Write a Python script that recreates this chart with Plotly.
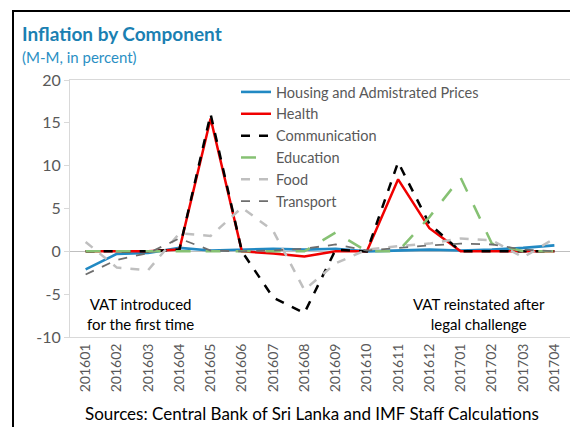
import plotly.graph_objects as go

months = ["201601", "201602", "201603", "201604", "201605", "201606", "201607", "201608",
          "201609", "201610", "201611", "201612", "201701", "201702", "201703", "201704"]

housing = [-2.1, -0.3, -0.2, 0.4, 0.1, 0.2, 0.3, 0.2, 0.3, 0.0, 0.1, 0.2, 0.1, 0.2, 0.4, 0.7]
health = [0.0, 0.0, 0.0, 0.2, 15.5, 0.0, -0.25, -0.6, 0.0, 0.0, 8.4, 2.7, 0.0, 0.0, 0.0, 0.0]
communication = [0.0, 0.0, 0.0, 0.2, 16.0, 0.0, -5.4, -7.2, 0.2, 0.0, 10.4, 3.2, 0.0, 0.0, 0.0, 0.0]
education = [0.0, 0.0, 0.0, 0.0, 0.0, 0.0, 0.0, 0.0, 2.2, 0.0, 0.0, 4.0, 8.6, 0.9, 0.0, 0.0]
food = [1.1, -1.9, -2.2, 2.1, 1.8, 5.1, 2.4, -4.5, -1.4, 0.2, 0.6, 0.9, 1.5, 1.3, -0.7, 1.5]
transport = [-2.7, -1.0, -0.2, 1.5, 0.1, 0.0, 0.1, 0.3, 0.8, 0.1, 0.4, 0.7, 0.9, 0.8, 0.2, 0.0]

y_ticks = [-10, -5, 0, 5, 10, 15, 20]
y_tick_labels = ["-10", "-5", "0", "5", "10", "15", "20"]

series = [
    ("Housing and Admistrated Prices", housing, "#2189C3", "solid", 2.6),
    ("Health", health, "#F00000", "solid", 2.5),
    ("Communication", communication, "#000000", "dash", 2.5),
    ("Education", education, "#86C173", "longdash", 2.5),
    ("Food", food, "#BFBFBF", "dash", 2.5),
    ("Transport", transport, "#6E6E6E", "dash", 1.8),
]

fig = go.Figure()
for name, vals, color, dash, w in series:
    fig.add_trace(go.Scatter(x=months, y=vals, name=name, mode="lines",
                             line=dict(color=color, dash=dash, width=w)))

FONT = "Lato"
# page is offset 8px by the browser's body margin; figure is sized to fit the window
W, H = 570, 419
L, R, T, B = 62, 8, 72, 90
pw, ph = W - L - R, H - T - B

def px_x(p):  # page pixel -> paper
    return (p - 8 - L) / pw

def px_y(p):
    return (H - B - (p - 8)) / ph

fig.update_layout(
    width=W, height=H,
    margin=dict(l=L, r=R, t=T, b=B),
    paper_bgcolor="white", plot_bgcolor="white",
    font=dict(family=FONT, color="#595959", size=14),
    showlegend=True,
    legend=dict(x=px_x(236), y=px_y(76), xanchor="left", yanchor="top",
                bgcolor="rgba(0,0,0,0)", font=dict(size=14.5, color="#595959"),
                tracegroupgap=0),
    xaxis=dict(type="category", showgrid=False, showline=True, linecolor="#D9D9D9",
               mirror=True, tickangle=-90, tickfont=dict(size=14, color="#595959"),
               ticks="", range=[-0.5, 15.5]),
    yaxis=dict(range=[-10, 20], tickvals=y_ticks, ticktext=y_tick_labels,
               showgrid=False, showline=True,
               linecolor="#D9D9D9", mirror=True, ticks="outside", ticklen=5,
               tickcolor="#D9D9D9", zeroline=True, zerolinecolor="#BFBFBF",
               zerolinewidth=1.2, tickfont=dict(size=16, color="#595959")),
)

fig.add_shape(type="line", xref="x", yref="paper", x0="201605", x1="201605", y0=0, y1=1,
              line=dict(color="#000000", width=1))
fig.add_shape(type="line", xref="x", yref="paper", x0="201611", x1="201611", y0=0, y1=1,
              line=dict(color="#7F7F7F", width=1.5))
fig.add_shape(type="rect", xref="paper", yref="paper", x0=px_x(13), x1=px_x(600),
              y0=px_y(460), y1=px_y(11), line=dict(color="#000000", width=2), layer="below")

fig.add_annotation(xref="paper", yref="paper", x=px_x(20), y=px_y(34), xanchor="left",
                   yanchor="middle", showarrow=False, text="<b>Inflation by Component</b>",
                   font=dict(size=19, color="#1B80B2", family=FONT))
fig.add_annotation(xref="paper", yref="paper", x=px_x(20), y=px_y(57), xanchor="left",
                   yanchor="middle", showarrow=False, text="(M-M, in percent)",
                   font=dict(size=15, color="#2A8FC4", family=FONT))
fig.add_annotation(xref="paper", yref="paper", x=px_x(140), y=px_y(314), xanchor="center",
                   yanchor="middle", showarrow=False,
                   text="VAT introduced<br>for the first time",
                   font=dict(size=15, color="#000000", family=FONT))
fig.add_annotation(xref="paper", yref="paper", x=px_x(479), y=px_y(314), xanchor="center",
                   yanchor="middle", showarrow=False,
                   text="VAT reinstated after<br>legal challenge",
                   font=dict(size=15, color="#000000", family=FONT))
fig.add_annotation(xref="paper", yref="paper", x=px_x(83), y=px_y(413), xanchor="left",
                   yanchor="middle", showarrow=False,
                   text="Sources: Central Bank of Sri Lanka and IMF Staff Calculations",
                   font=dict(size=17, color="#000000", family=FONT))

fig.write_html("out.html")
